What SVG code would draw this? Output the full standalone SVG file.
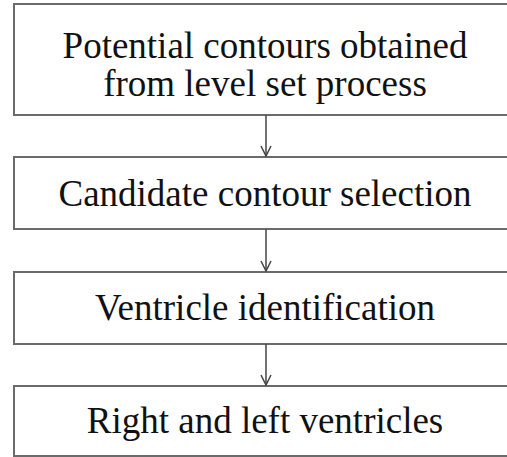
<svg xmlns="http://www.w3.org/2000/svg" width="507" height="457" viewBox="0 0 507 457">
  <style>
    .box { fill: #ffffff; stroke: #6b6b6b; stroke-width: 2; }
    .label { font-family: "Liberation Serif", "Times New Roman", serif; font-size: 37px; fill: #111111; text-anchor: middle; }
    .link { stroke: #444444; stroke-width: 1.5; fill: none; }
  </style>
  <defs>
    <!-- open V arrowhead, drawn along +x so orient="auto" turns it with the line -->
    <marker id="arrow" markerWidth="12" markerHeight="12" refX="11" refY="6" orient="auto" markerUnits="userSpaceOnUse" viewBox="0 0 12 12">
      <path d="M1,1 L11,6 L1,11" fill="none" stroke="#444444" stroke-width="1.5"/>
    </marker>
  </defs>
  <rect width="507" height="457" fill="#ffffff"/>

  <g id="step-contours">
    <rect class="box" x="14" y="4" width="504" height="111"/>
    <text class="label" x="265" y="58">Potential contours obtained</text>
    <text class="label" x="265" y="96">from level set process</text>
  </g>

  <g id="step-selection">
    <rect class="box" x="14" y="157" width="504" height="72"/>
    <text class="label" x="265" y="206">Candidate contour selection</text>
  </g>

  <g id="step-identification">
    <rect class="box" x="14" y="272" width="504" height="72"/>
    <text class="label" x="265" y="320">Ventricle identification</text>
  </g>

  <g id="step-result">
    <rect class="box" x="14" y="386" width="504" height="70"/>
    <text class="label" x="265" y="433">Right and left ventricles</text>
  </g>

  <g id="connectors">
    <line class="link" x1="266" y1="115" x2="266" y2="156" marker-end="url(#arrow)"/>
    <line class="link" x1="266" y1="229" x2="266" y2="271" marker-end="url(#arrow)"/>
    <line class="link" x1="266" y1="344" x2="266" y2="385" marker-end="url(#arrow)"/>
  </g>
</svg>
